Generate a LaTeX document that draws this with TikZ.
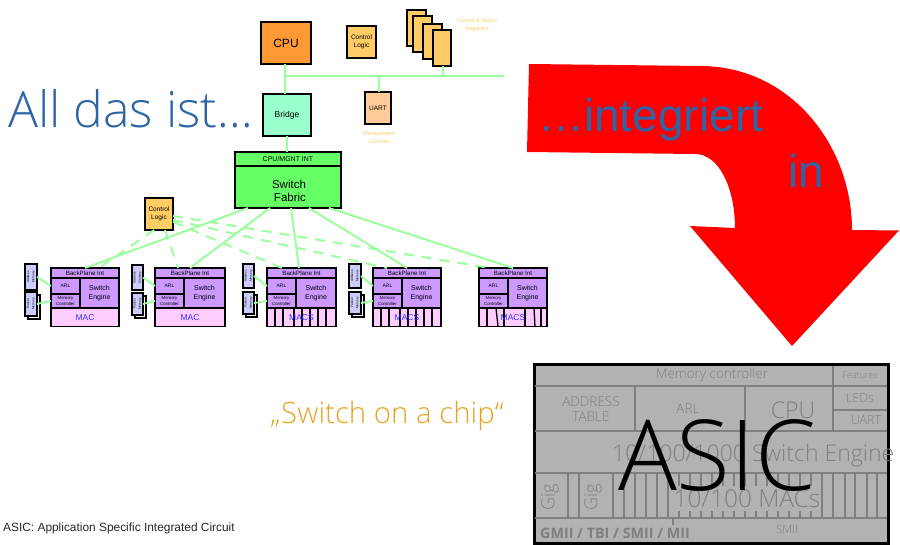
\documentclass[tikz,border=0pt]{standalone}
\usepackage{fontspec}
\setmainfont{Liberation Sans}
\newfontfamily\osf{Open Sans}
\newfontfamily\osl{Open Sans Light}
\usetikzlibrary{calc}
\definecolor{linkgreen}{HTML}{99FF99}
\definecolor{cpuor}{HTML}{FF9933}
\definecolor{ctlor}{HTML}{FFCC66}
\definecolor{uartor}{HTML}{FFCC99}
\definecolor{brgreen}{HTML}{99FFCC}
\definecolor{fabgreen}{HTML}{66FF66}
\definecolor{purp}{HTML}{CC99FF}
\definecolor{pinkm}{HTML}{FFCCFF}
\definecolor{memb}{HTML}{CCCCFF}
\definecolor{macblue}{HTML}{3333FF}
\definecolor{titleblue}{HTML}{2E65A5}
\definecolor{introor}{HTML}{E6A420}
\definecolor{asicbg}{HTML}{B2B2B2}
\definecolor{asicln}{HTML}{7F7F7F}
\newcommand{\fsz}[1]{\fontsize{#1}{#1}\selectfont}
\tikzset{
  blk/.style={draw=black,line width=1.7pt,rectangle,inner sep=0pt,outer sep=0pt,align=center},
  link/.style={draw=linkgreen,line width=1.9pt},
  dlink/.style={draw=linkgreen,line width=1.9pt,dash pattern=on 10pt off 8pt},
  pale/.style={text=ctlor,align=center,font=\fsz{5.5},inner sep=0pt},
  asl/.style={draw=asicln,line width=1.2pt},
  ast/.style={text=asicln,inner sep=0pt,align=center},
  ttl/.style={text=titleblue,inner sep=0pt,anchor=base west,font=\fsz{46}},
}
% name, x0, y0, x1, y1, fill, text
\newcommand{\bx}[7]{%
  \pgfmathsetmacro{\cxx}{(#2+#4)/2}\pgfmathsetmacro{\cyy}{(#3+#5)/2}%
  \pgfmathsetmacro{\www}{#4-#2}\pgfmathsetmacro{\hhh}{#5-#3}%
  \node[blk,fill=#6,minimum width=\www pt,minimum height=\hhh pt] (#1) at (\cxx,\cyy) {#7};}
% id, x, y, width, mac-label
\newcommand{\swblock}[5]{%
  \pgfmathsetmacro{\xa}{#2}\pgfmathsetmacro{\xb}{#2+29}\pgfmathsetmacro{\xc}{#2+#4}%
  \pgfmathsetmacro{\ya}{#3}\pgfmathsetmacro{\yb}{#3+10}\pgfmathsetmacro{\yc}{#3+26}\pgfmathsetmacro{\yd}{#3+40}\pgfmathsetmacro{\ye}{#3+58.5}%
  \bx{bp#1}{\xa}{\ya}{\xc}{\yb}{purp}{\fsz{6.2}BackPlane Int}
  \bx{arl#1}{\xa}{\yb}{\xb}{\yc}{purp}{\fsz{5}ARL}
  \bx{mc#1}{\xa}{\yc}{\xb}{\yd}{purp}{\fsz{4.3}Memory\\[-6pt]\fsz{4.3}Controller}
  \bx{se#1}{\xb}{\yb}{\xc}{\yd}{purp}{\fsz{7}Switch\\[-3pt]\fsz{7}Engine}
  \bx{mac#1}{\xa}{\yd}{\xc}{\ye}{pinkm}{}
  #5
  \node[text=macblue,font=\fsz{8.5},inner sep=0pt] (ml#1) at (mac#1.center) {\ifnum#1<3 MAC\else MACS\fi};
}
\newcommand{\mem}[5]{% name,x0,y0,x1,y1
  \bx{#1}{#2}{#3}{#4}{#5}{memb}{\rotatebox{90}{\shortstack{\fsz{3.2}Address\\\fsz{3.2}Memory}}}}
\newcommand{\pmem}[5]{%
  \pgfmathsetmacro{\pa}{#2+3}\pgfmathsetmacro{\pb}{#3+3}\pgfmathsetmacro{\pc}{#4+3}\pgfmathsetmacro{\pd}{#5+3}%
  \bx{#1s}{\pa}{\pb}{\pc}{\pd}{white}{}
  \bx{#1}{#2}{#3}{#4}{#5}{memb}{\rotatebox{90}{\shortstack{\fsz{3.2}Packet\\\fsz{3.2}Memory}}}}
\begin{document}
\begin{tikzpicture}[x=1pt,y=-1pt]
\useasboundingbox (0,0) rectangle (900,545);

\coordinate (busend) at (504,76);
\coordinate (busstart) at (285,76);
\bx{cpu}{261}{22}{311}{64}{cpuor}{\fsz{12}CPU}
\bx{ctl}{347}{26}{376}{58}{ctlor}{\fsz{6.5}Control\\[-4pt]\fsz{6.5}Logic}
\bx{r1}{407}{10}{426}{46}{ctlor}{}
\bx{r2}{413}{16}{432}{52}{ctlor}{}
\bx{r3}{423}{24}{442}{59}{ctlor}{}
\bx{r4}{433}{30}{451}{66}{ctlor}{}
\node[pale] (reglab) at (477,25.5) {Control \& Status\\[2.5pt]Registers};
\bx{bridge}{263}{94}{311}{136}{brgreen}{\fsz{8.5}Bridge}
\bx{uart}{365}{92}{391}{124}{uartor}{\fsz{6.5}UART}
\node[pale] (uartlab) at (379,137.5) {Management\\[2.5pt]Console};
\bx{hdr}{235}{152}{341}{166}{fabgreen}{\fsz{7}CPU/MGNT INT}
\bx{fab}{235}{166}{341}{208}{fabgreen}{}
\node[inner sep=0pt,align=center,font=\fsz{11.5}] (fabt) at (289,191) {Switch\\[2pt]\fsz{11.5}\,Fabric};
\bx{ctl2}{145}{198}{173}{230}{ctlor}{\fsz{6.5}Control\\[-4pt]\fsz{6.5}Logic}

\draw[link] (busstart) -- (busend);
\draw[link] ($(cpu.south west)+(24,0)$) -- ($(bridge.north west)+(22,0)$);
\draw[link] ($(bridge.south west)+(24,0)$) -- ($(hdr.north west)+(52,0)$);
\draw[link] ($(uart.north west)+(14,0)$) -- ($(uart.north west)+(14,-16)$);
\draw[link] ($(r4.south west)+(10,0)$) -- ($(r4.south west)+(10,10)$);

\swblock{1}{51}{268}{68}{}
\swblock{2}{155}{268}{70}{}
\swblock{3}{267}{268}{69}{\foreach \o in {8,16,27,35,43,51,59}{\draw[black,line width=1.3pt] ($(mac3.north west)+(\o,0)$) -- ($(mac3.south west)+(\o,0)$);}}
\swblock{4}{373}{268}{68}{\foreach \o in {8,16,27,35,43,51,59}{\draw[black,line width=1.3pt] ($(mac4.north west)+(\o,0)$) -- ($(mac4.south west)+(\o,0)$);}}
\swblock{5}{479}{268}{68}{\draw[black,line width=1.3pt] ($(mac5.north west)+(8,0)$) -- ($(mac5.south west)+(8,0)$);
  \draw[black,line width=1.3pt] ($(mac5.north west)+(17,0)$) -- ($(mac5.south west)+(19,0)$);
  \draw[black,line width=1.3pt] ($(mac5.north west)+(25,0)$) -- ($(mac5.south west)+(25,0)$);
  \draw[black,line width=1.3pt] ($(mac5.north west)+(46,0)$) -- ($(mac5.south west)+(46,0)$);
  \draw[black,line width=1.3pt] ($(mac5.north west)+(55,0)$) -- ($(mac5.south west)+(56,0)$);
  \draw[black,line width=1.3pt] ($(mac5.north west)+(62,0)$) -- ($(mac5.south west)+(62,0)$);}

\mem{am1}{25}{264}{37}{290}
\pmem{pm1}{25}{292}{37}{316}
\mem{am2}{132}{265}{143}{290}
\pmem{pm2}{132}{293}{143}{315}
\mem{am3}{243}{264}{254}{288}
\pmem{pm3}{243}{292}{254}{314}
\mem{am4}{349}{264}{361}{288}
\pmem{pm4}{349}{292}{361}{314}

\foreach \n in {1,2,3,4}{
  \draw[link] (am\n.east) -- (arl\n.west);
  \draw[link] (pm\n.east) -- (mc\n.west);
}
\draw[link] ($(fab.south west)+(13,0)$) -- ($(bp1.north west)+(34,0)$);
\draw[link] ($(fab.south west)+(35,0)$) -- ($(bp2.north west)+(35,0)$);
\draw[link] ($(fab.south west)+(56,0)$) -- ($(bp3.north west)+(32,0)$);
\draw[link] ($(fab.south west)+(74,0)$) -- ($(bp4.north west)+(34,0)$);
\draw[link] ($(fab.south west)+(94,0)$) -- ($(bp5.north west)+(34,0)$);
\draw[dlink] ($(ctl2.south west)+(9,0)$) -- ($(bp1.north west)+(48,0)$);
\draw[dlink] ($(ctl2.south west)+(20,0)$) -- ($(bp2.north west)+(23,0)$);
\draw[dlink] ($(ctl2.north east)+(0,18)$) -- ($(bp5.north west)+(11,0)$);
\draw[dlink] ($(ctl2.north east)+(0,22)$) -- ($(bp4.north west)+(14,0)$);
\draw[dlink] ($(ctl2.north east)+(0,24)$) -- ($(bp3.north west)+(15,0)$);

\fill[red] (529,64) -- (700,66) .. controls (790,66) and (852,145) .. (852,230) -- (899,230.5) -- (792,346) -- (690,226) -- (735,228)
  .. controls (735,190) and (720,154) .. (695,154) -- (527,152) -- cycle;

\node[text=titleblue,inner sep=0pt,anchor=base west,font=\osl\fsz{50}] (t1) at (8,128) {All das ist…};
\node[ttl] (t2) at (538,132) {…integriert};
\node[ttl] (t3) at (788,188) {in};
\node[text=introor,inner sep=0pt,anchor=base west,font=\osl\fsz{29.4}] (t4) at (270,424) {„Switch on a chip“};
\node[inner sep=0pt,anchor=base west,font=\fsz{11.9},text=black!85] (t5) at (3,531) {ASIC: Application Specific Integrated Circuit};

\node[draw=black,line width=3pt,fill=asicbg,rectangle,minimum width=354pt,minimum height=178pt,inner sep=0pt] (chip) at (711,454) {};
\draw[asl] (535,386) -- (887,386);
\draw[asl] (535,431) -- (887,431);
\draw[asl] (833,366) -- (833,431);
\draw[asl] (833,410) -- (887,410);
\draw[asl] (635,386) -- (635,431);
\draw[asl] (745,386) -- (745,431);
\draw[asl] (535,473) -- (887,473);
\draw[asl] (535,518) -- (887,518);
\foreach \x in {568,579,613,624,635,646,657,668,679,690,701,712,723,734,745,756,767,778,789,800,811,822,833,845,855,867,877}{
  \draw[asl] (\x,473) -- (\x,518);
}
\fill[asicbg] (669,486) rectangle (821,511);
\draw[asl] (673,518) -- (673,525);
\node[ast,font=\osl\fsz{13.5}] (a1) at (712,375) {Memory controller};
\node[ast,font=\osl\fsz{13.5}] (a2) at (591,409) {ADDRESS\\[1pt]\fsz{13.5}TABLE};
\node[ast,font=\osl\fsz{13.5}] (a3) at (688,409) {ARL};
\node[ast,font=\osl\fsz{23}] (a4) at (793,410) {CPU};
\node[ast,font=\osl\fsz{9}] (a5) at (860,375) {Features};
\node[ast,font=\osl\fsz{12.5}] (a6) at (860,398) {LEDs};
\node[ast,font=\osl\fsz{12.5}] (a7) at (866,420) {UART};
\node[ast,font=\osl\fsz{23},anchor=base west] (a8) at (612,461) {10/100/1000 Switch Engine};
\node[ast,font=\osl\fsz{18},rotate=90] (a9) at (550,497) {Gig};
\node[ast,font=\osl\fsz{18},rotate=90] (a10) at (593,497) {Gig};
\node[ast,font=\osl\fsz{24.5}] (a11) at (747,499) {10/100 MACs};
\node[ast,font=\osf\bfseries\fsz{14.3},anchor=base west] (a12) at (540,538) {GMII / TBI / SMII / MII};
\node[ast,font=\osl\fsz{11.5}] (a13) at (787,529) {SMII};
\node[text=black,inner sep=0pt,anchor=base,font=\osl\fsz{98}] (a14) at (717,490) {ASIC};
\end{tikzpicture}
\end{document}
